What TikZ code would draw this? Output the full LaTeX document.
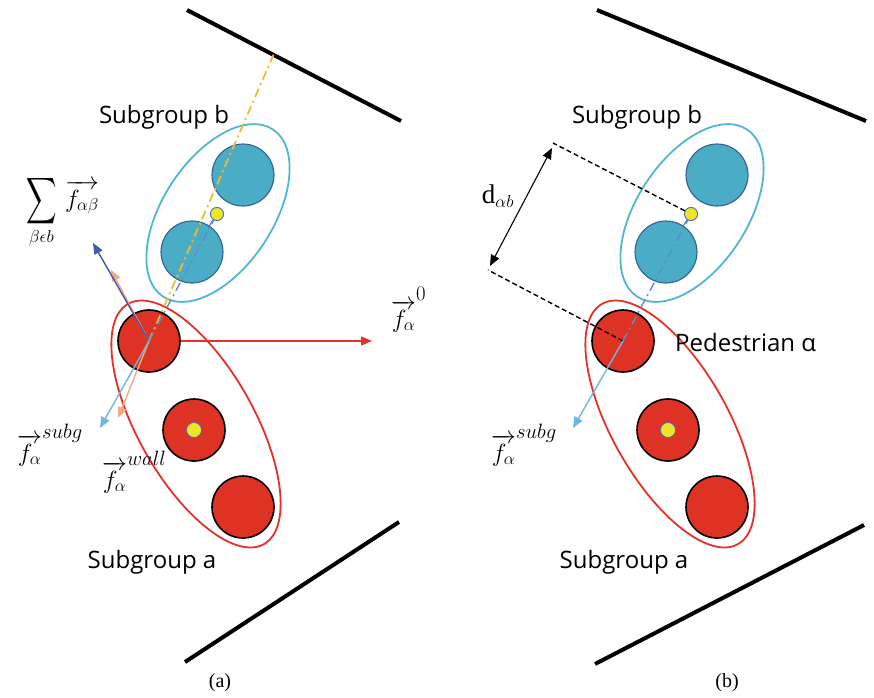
\documentclass[tikz,border=0pt]{standalone}
\usepackage{amsmath}
\usepackage{graphicx}
\usepackage{fontspec}
\setmainfont{Liberation Serif}
\newfontfamily\lblfont{Open Sans}
\usetikzlibrary{arrows.meta}
\definecolor{redf}{RGB}{222,50,36}
\definecolor{redl}{RGB}{232,48,42}
\definecolor{bluef}{RGB}{75,172,198}
\definecolor{bluedark}{RGB}{52,96,150}
\definecolor{cyanl}{RGB}{80,182,214}
\definecolor{yellowf}{RGB}{240,228,40}
\definecolor{dotedge}{RGB}{70,110,190}
\definecolor{navyarr}{RGB}{60,92,172}
\definecolor{lightarr}{RGB}{108,184,222}
\definecolor{salmon}{RGB}{246,168,128}
\definecolor{goldl}{RGB}{245,186,40}
\definecolor{dashblue}{RGB}{90,140,215}
\newcommand{\suplbl}[2]{$\overrightarrow{f_{\alpha}}$\raisebox{#1}{\fontsize{21}{24}\selectfont$#2$}}
\begin{document}
\begin{tikzpicture}[x=1pt,y=-1pt,
  wallline/.style={line width=4pt,black},
  redp/.style={circle,draw=black,line width=1.6pt,fill=redf,minimum size=62pt,inner sep=0pt},
  bluep/.style={circle,draw=bluedark,line width=1.1pt,fill=bluef,minimum size=62pt,inner sep=0pt},
  ydot/.style={circle,draw=dotedge,line width=0.8pt,fill=yellowf,minimum size=13pt,inner sep=0pt},
  redell/.style={draw=redl,line width=1.8pt},
  blueell/.style={draw=cyanl,line width=1.8pt},
  tip/.style={-{Triangle[length=11pt,width=9pt]}},
  forcearr/.style={tip,line width=1.4pt},
  dashdot/.style={line width=1.8pt,dash pattern=on 9pt off 4pt on 2pt off 4pt},
  blackdash/.style={line width=1.4pt,dash pattern=on 5pt off 3pt},
  lbl/.style={font=\lblfont\fontsize{24}{28}\selectfont,inner sep=0pt},
  mlbl/.style={font=\fontsize{25}{28}\selectfont,inner sep=0pt},
  caplbl/.style={font=\fontsize{20}{24}\selectfont,inner sep=0pt}]
\useasboundingbox (0,0) rectangle (874,697);
\fill[white] (0,0) rectangle (874,697);

% ---------------- panel (a) ----------------
\coordinate (wa1) at (187,10);
\coordinate (wa2) at (401,121);
\coordinate (wb1) at (185,662);
\coordinate (wb2) at (399,522);
\draw[wallline] (wa1) -- (wa2);
\draw[wallline] (wb1) -- (wb2);
\draw[blueell, rotate around={56.7:(218,213)}] (218,213) ellipse [x radius=100pt, y radius=55pt];
\draw[redell, rotate around={-60.5:(196,424)}] (196,424) ellipse [x radius=138pt, y radius=58pt];

\node[ydot] (bdot1) at (217,214) {};
\node[bluep] (bl1) at (192,252) {};
\draw[dotedge,line width=1pt] (bdot1) -- (bl1);
\node[bluep] (bu1) at (243,175) {};
\node[ydot] (bdot1) at (217,214) {};
\node[redp] (a1) at (149,341) {};
\node[redp] (am1) at (194,430) {};
\node[ydot,minimum size=15pt] (amdot1) at (194,430) {};
\node[redp] (ab1) at (243,507) {};

\coordinate (fa0) at (372,341);
\coordinate (fsum) at (93,243);
\coordinate (fwu) at (111,270);
\coordinate (fsub) at (100,428);
\coordinate (fwall) at (118,418);
\coordinate (ydir) at (269,65);
\coordinate (ywall) at (intersection of a1--ydir and wa1--wa2);

\draw[forcearr,redl] (a1.east) -- (fa0);
\draw[forcearr,salmon] (a1.center) -- (fwu);
\draw[forcearr,navyarr] (a1.center) -- (fsum);
\draw[forcearr,salmon] (a1.center) -- (fwall);
\draw[forcearr,lightarr] (a1.center) -- (fsub);
\draw[dashdot,goldl] (a1.center) -- (ywall);
\draw[dashdot,dashblue,line width=1.4pt] (a1.center) -- (bdot1);

\node[lbl] (sgb1) at (164,117) {Subgroup b};
\node[lbl] (sga1) at (152,562) {Subgroup a};
\node[mlbl,font=\fontsize{26}{30}\selectfont,anchor=base west] (lsum) at (26,207)
  {$\displaystyle\mathop{\vcenter{\hbox{\scalebox{0.85}[1.3]{$\displaystyle\sum$}}}}\limits_{\mbox{\fontsize{19}{21}\selectfont$\beta\epsilon b$}}\,\overrightarrow{f_{\alpha\beta}}$};
\node[mlbl,anchor=base west] (lf0) at (391,327) {\suplbl{27pt}{0}};
\node[mlbl,anchor=base west] (lsub1) at (17,461) {\suplbl{23pt}{subg}};
\node[mlbl,anchor=base west] (lwall) at (102,488) {\suplbl{23pt}{wall}};
\node[caplbl] (capa) at (220,683) {(a)};

% ---------------- panel (b) ----------------
\draw[wallline] (597,10) -- (866,121);
\draw[wallline] (595,664) -- (864,525);
\draw[blueell, rotate around={56.7:(692,213)}] (692,213) ellipse [x radius=100pt, y radius=55pt];
\draw[redell, rotate around={-60.5:(670,424)}] (670,424) ellipse [x radius=138pt, y radius=58pt];

\node[ydot] (bdot2) at (691,214) {};
\node[bluep] (bl2) at (666,252) {};
\draw[dotedge,line width=1pt] (bdot2) -- (bl2);
\node[bluep] (bu2) at (717,175) {};
\node[ydot] (bdot2) at (691,214) {};
\node[redp] (a2) at (623,341) {};
\node[redp] (am2) at (668,430) {};
\node[ydot,minimum size=15pt] (amdot2) at (668,430) {};
\node[redp] (ab2) at (717,507) {};

\coordinate (d1) at (553,143);
\coordinate (d2) at (488,270);
\coordinate (dd1) at (552,148);
\coordinate (dd2) at (490,266);
\coordinate (fsub2) at (573,428);

\draw[blackdash] (bdot2) -- (d1);
\draw[blackdash] (a2.center) -- (d2);
\draw[line width=1.1pt,{Triangle[length=11pt,width=9pt]}-{Triangle[length=11pt,width=9pt]}] (dd1) -- (dd2);
\draw[forcearr,lightarr] (a2.center) -- (fsub2);
\draw[dashdot,dashblue,line width=1.4pt] (a2.center) -- (bdot2);

\node[lbl] (sgb2) at (637,117) {Subgroup b};
\node[lbl] (sga2) at (624,562) {Subgroup a};
\node[lbl,anchor=west] (ped) at (675,342) {Pedestrian α};
\node[mlbl,font=\fontsize{27}{30}\selectfont] (ldab) at (498,196) {$\mathrm{d}_{\alpha b}$};
\node[mlbl,anchor=base west] (lsub2) at (491,461) {\suplbl{23pt}{subg}};
\node[caplbl] (capb) at (727,683) {(b)};
\end{tikzpicture}
\end{document}
